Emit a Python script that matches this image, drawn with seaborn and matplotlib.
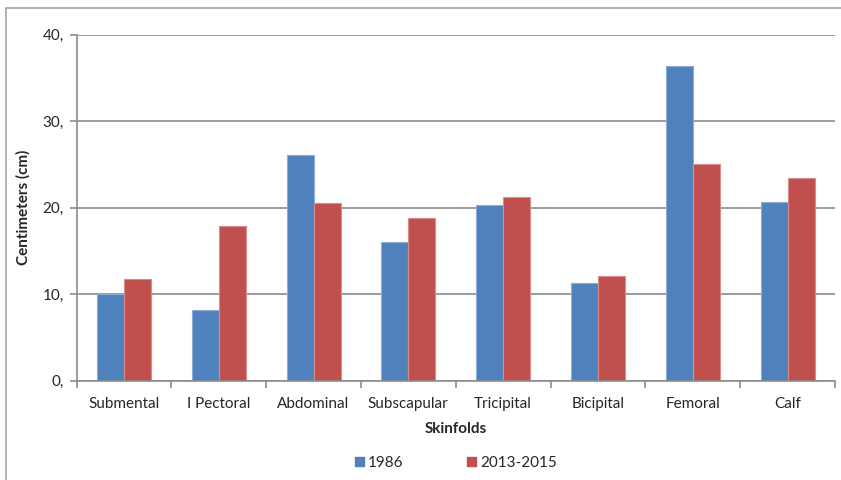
import matplotlib
matplotlib.use("Agg")
import matplotlib.pyplot as plt
from matplotlib.lines import Line2D
from matplotlib.ticker import FixedLocator, FuncFormatter
import seaborn as sns
import pandas as pd

categories = ["Submental", "I Pectoral", "Abdominal", "Subscapular",
              "Tricipital", "Bicipital", "Femoral", "Calf"]
series_names = ["1986", "2013-2015"]
values_1986 = [10.0, 8.2, 26.1, 16.0, 20.3, 11.3, 36.4, 20.7]
values_2013 = [11.7, 17.9, 20.5, 18.8, 21.2, 12.1, 25.1, 23.4]
y_ticks = [0, 10, 20, 30, 40]

colors = ["#4F81BD", "#C0504D"]
edge_colors = ["#8EADD6", "#DA8C8A"]

df = pd.DataFrame({
    "Skinfold": categories * 2,
    "Series": [series_names[0]] * len(categories) + [series_names[1]] * len(categories),
    "Value": values_1986 + values_2013,
})

sns.set_style("white")
plt.rcParams["font.family"] = ["Lato", "DejaVu Sans"]

fig = plt.figure(figsize=(8.41, 4.8), dpi=100)
ax = fig.add_axes([76.5 / 841, 1 - 380.5 / 480, (835 - 76.5) / 841, (380.5 - 34.7) / 480])

sns.barplot(data=df, x="Skinfold", y="Value", hue="Series", order=categories,
            hue_order=series_names, palette=colors, width=0.57, ax=ax,
            saturation=1, legend=True)

# subtle lighter outlines on the bars
for container, ec in zip(ax.containers, edge_colors):
    for bar in container:
        bar.set_edgecolor(ec)
        bar.set_linewidth(0.8)

grid_color = "#8C8C8C"
fs = 11
ax.set_ylim(0, 40)
ax.set_xlim(-0.5, len(categories) - 0.5)
ax.yaxis.set_major_locator(FixedLocator(y_ticks))
ax.yaxis.set_major_formatter(FuncFormatter(lambda v, p: f"{v:.0f},"))
ax.yaxis.grid(True, color=grid_color, linewidth=1.2)
ax.set_axisbelow(True)

for side in ("top", "right"):
    ax.spines[side].set_visible(False)
for side in ("left", "bottom"):
    ax.spines[side].set_color(grid_color)
    ax.spines[side].set_linewidth(1.2)

ax.tick_params(axis="y", which="major", length=5, width=1.2, color=grid_color,
               labelsize=fs, pad=4, left=True)
ax.tick_params(axis="x", which="major", length=0, labelsize=fs, pad=12)
ax.set_xticks([i - 0.5 for i in range(len(categories) + 1)], minor=True)
ax.tick_params(axis="x", which="minor", length=5, width=1.2, color=grid_color,
               bottom=True)

ax.set_xlabel("Skinfolds", fontsize=fs, fontweight="bold", labelpad=8)
ax.set_ylabel("Centimeters (cm)", fontsize=fs, fontweight="bold", labelpad=9)

handles = [plt.Rectangle((0, 0), 1, 1, color=c) for c in colors]
ax.legend(handles, series_names, loc="center", bbox_to_anchor=(0.5, -0.2386),
          ncol=2, frameon=False, fontsize=fs, handlelength=0.6, handleheight=0.6,
          columnspacing=4.2, handletextpad=0.25)

# thin frame around the chart area
fig.add_artist(Line2D([6 / 841, 1], [1 - 8 / 480, 1 - 8 / 480],
                      transform=fig.transFigure, color="#A6A6A6", linewidth=1.2))
fig.add_artist(Line2D([6 / 841, 6 / 841], [0, 1 - 8 / 480],
                      transform=fig.transFigure, color="#A6A6A6", linewidth=1.2))

fig.savefig("out.png", dpi=100)
